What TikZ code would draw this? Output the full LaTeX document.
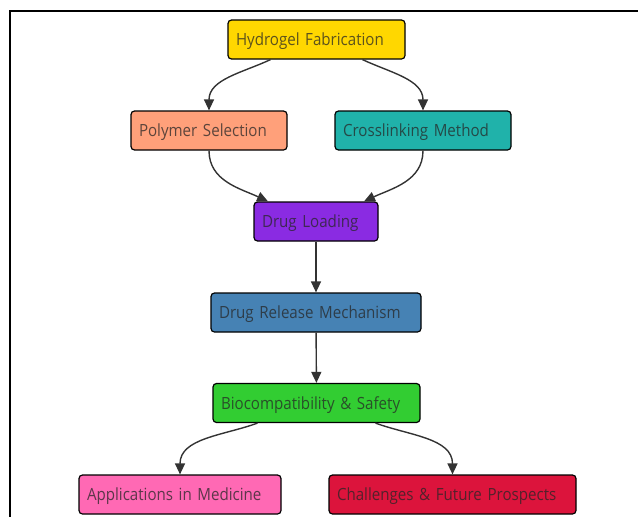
\documentclass[tikz,border=0pt]{standalone}
\usepackage{fontspec}
\setmainfont{Open Sans}[FakeStretch=0.9]
\usepackage{xcolor}
\usetikzlibrary{calc,arrows.meta}

\definecolor{fabcol}{HTML}{FFD700}
\definecolor{polycol}{HTML}{FFA07A}
\definecolor{crosscol}{HTML}{20B2AA}
\definecolor{loadcol}{HTML}{8A2BE2}
\definecolor{relcol}{HTML}{4682B4}
\definecolor{biocol}{HTML}{32CD32}
\definecolor{appcol}{HTML}{FF69B4}
\definecolor{chalcol}{HTML}{DC143C}

\tikzset{
  box/.style={draw=black,line width=1.2pt,rounded corners=3.5pt,minimum height=39pt,
    inner xsep=8pt,inner ysep=0pt,align=left,text width=#1,text height=12pt,text depth=0pt,
    text=black!85,text opacity=0.75,font=\fontsize{16.8}{19}\selectfont},
  flow/.style={line width=1.4pt,draw=black!80,-{Triangle[length=11pt,width=10pt]}}
}

\begin{document}
\begin{tikzpicture}[x=1pt,y=1pt]
    \useasboundingbox (0,0) rectangle (638,-517);
    \draw[line width=1.5pt] (10,-517) -- (10,-11) -- (638,-11);

    \node (fab) [box=161pt,fill=fabcol] at (316.5,-39.5) {Hydrogel Fabrication};
    \node (poly) [box=140pt,fill=polycol] at (209,-130.5) {Polymer Selection};
    \node (cross) [box=160pt,fill=crosscol] at (423,-130.5) {Crosslinking Method};
    \node (load) [box=108pt,fill=loadcol] at (316,-221.5) {Drug Loading};
    \node (rel) [box=194pt,fill=relcol] at (316,-312.5) {Drug Release Mechanism};
    \node (bio) [box=191pt,fill=biocol] at (316.5,-403) {Biocompatibility \& Safety};
    \node (app) [box=186pt,fill=appcol] at (180,-494.5) {Applications in Medicine};
    \node (chal) [box=231pt,fill=chalcol] at (452.5,-494.5) {Challenges \& Future Prospects};

    \draw[flow] ($(fab.south)+(-46,0)$) to[out=-155,in=90] (poly.north);
    \draw[flow] ($(fab.south)+(46,0)$) to[out=-25,in=90] (cross.north);
    \draw[flow] (poly.south) to[out=-90,in=155] ($(load.north)+(-48,0)$);
    \draw[flow] (cross.south) to[out=-90,in=25] ($(load.north)+(48,0)$);
    \foreach \c/\d in {load/rel,rel/bio} {\draw[flow] (\c) -- (\d);}
    \draw[flow] ($(bio.south)+(-59,0)$) to[out=-160,in=90] (app.north);
    \draw[flow] ($(bio.south)+(59,0)$) to[out=-20,in=90] (chal.north);
\end{tikzpicture}
\end{document}
